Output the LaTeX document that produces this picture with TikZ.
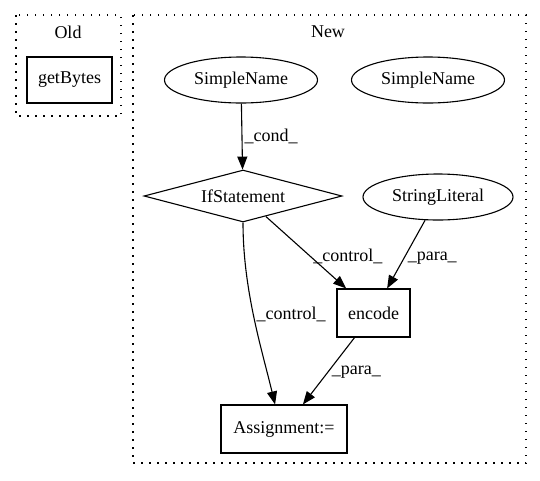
\documentclass[tikz,border=0pt]{standalone}
\usepackage{fontspec}
\setmainfont{Liberation Serif}
\usetikzlibrary{shapes.geometric,arrows.meta}
\begin{document}
\begin{tikzpicture}[x=1pt,y=-1pt,
  every node/.style={font=\fontsize{18}{20}\selectfont},
  box/.style={draw,line width=1.1pt,rectangle,inner sep=0pt},
  ell/.style={draw,line width=1.1pt,ellipse,inner sep=0pt,minimum width=153pt,minimum height=46pt},
  dia/.style={draw,line width=1.1pt,diamond,inner sep=0pt,aspect=3.8,minimum width=198pt,minimum height=52pt},
  cluster/.style={line width=1.3pt,dash pattern=on 1.5pt off 6.5pt},
  edge/.style={line width=1.1pt,-{Triangle[length=13pt,width=10pt]}},
  lbl/.style={inner sep=2pt}]
\useasboundingbox (0,0) rectangle (540,480);
% clusters
\draw[cluster] (16,15) rectangle (121,116);
\node (oldlbl) at (68,32) {Old};
\draw[cluster] (133,15) rectangle (526,463);
\node (newlbl) at (328,32) {New};
% nodes
\node[box,minimum width=85pt,minimum height=46pt] (getbytes) at (69.5,80) {getBytes};
\node[ell] (sn1) at (241,80) {SimpleName};
\node[ell] (sn2) at (428,80) {SimpleName};
\node[dia] (if) at (243,196) {IfStatement};
\node[ell,minimum width=150pt] (str) at (438,197) {StringLiteral};
\node[box,minimum width=73pt,minimum height=48pt] (enc) at (373.5,313) {encode};
\node[box,minimum width=126pt,minimum height=48pt] (asg) at (284,429) {Assignment:=};
% edges
\draw[edge] (sn1) -- node[lbl,right,pos=0.5] {\_cond\_} (if);
\draw[edge] (if) -- node[lbl,anchor=west,pos=0.56] {\_control\_} (enc);
\draw[edge] (str) -- node[lbl,anchor=west,pos=0.55,xshift=1pt] {\_para\_} (enc);
\draw[edge] (if.south) .. controls (243,290) and (262,350) .. node[lbl,anchor=west,pos=0.5,yshift=4pt] {\_control\_} (asg.110);
\draw[edge] (enc) -- node[lbl,anchor=west,pos=0.51,xshift=1pt] {\_para\_} (asg);
\end{tikzpicture}
\end{document}
